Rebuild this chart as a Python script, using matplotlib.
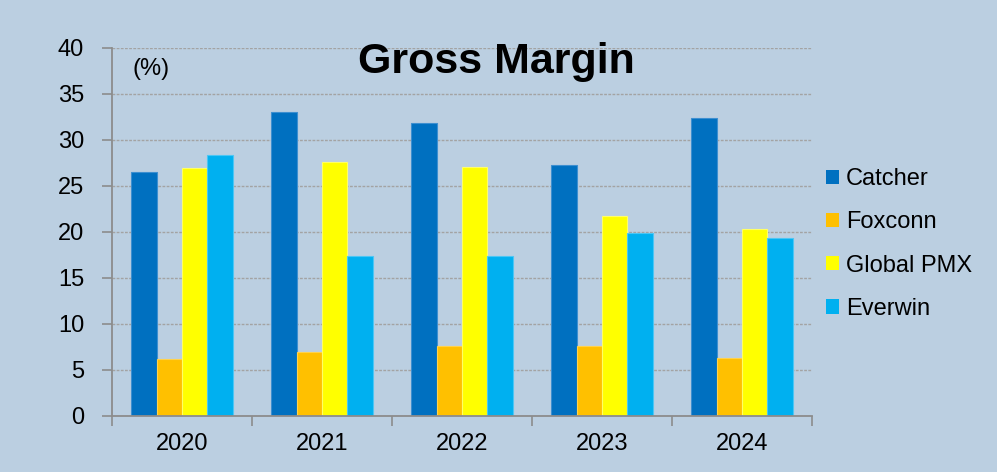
import matplotlib
matplotlib.use("Agg")
import matplotlib.pyplot as plt
from matplotlib.patches import Patch
import numpy as np

plt.rcParams['font.family'] = ['Liberation Sans', 'DejaVu Sans']

years = ["2020", "2021", "2022", "2023", "2024"]
series_names = ["Catcher", "Foxconn", "Global PMX", "Everwin"]
catcher = [26.5, 33.0, 31.8, 27.25, 32.4]
foxconn = [6.15, 7.0, 7.6, 7.65, 6.35]
global_pmx = [27.0, 27.6, 27.1, 21.7, 20.3]
everwin = [28.4, 17.4, 17.35, 19.85, 19.3]
colors = ["#0070C0", "#FFC000", "#FFFF00", "#00B0F0"]
edges = ["#3d8fd0", "#ffd24d", "#ffff66", "#4cc6f4"]

bg = "#bbcfe1"
fig = plt.figure(figsize=(9.97, 4.72), dpi=100, facecolor=bg)
ax = fig.add_axes([112/997, 1-416/472, 700/997, 368/472])
ax.set_facecolor(bg)

x = np.arange(len(years))
bw = 0.1815
data = [catcher, foxconn, global_pmx, everwin]
for i, (vals, c, e, n) in enumerate(zip(data, colors, edges, series_names)):
    ax.bar(x + (i - 1.5) * bw, vals, width=bw, color=c, edgecolor=e, linewidth=0.8, label=n, zorder=3)

ax.set_xlim(-0.5, len(years) - 0.5)
ax.set_ylim(0, 40)
ax.set_yticks(np.arange(0, 41, 5))
ax.set_xticks(np.arange(-0.5, len(years), 1.0))
ax.set_xticklabels([])
ax.set_xticks(x, minor=True)
ax.set_xticklabels(years, minor=True)
ax.tick_params(axis='x', which='minor', length=0, pad=12, labelsize=17)
ax.tick_params(axis='x', which='major', length=7, width=1.2, color='#8c8c8c', direction='out')
ax.tick_params(axis='y', length=7, width=1.2, color='#8c8c8c', direction='out', pad=13, labelsize=17)

ax.grid(axis='y', color='#a3a3a3', linestyle=(0, (2, 1)), linewidth=1.0, zorder=0)
for s in ['top', 'right']:
    ax.spines[s].set_visible(False)
for s in ['left', 'bottom']:
    ax.spines[s].set_color('#8c8c8c')
    ax.spines[s].set_linewidth(1.3)
    ax.spines[s].set_zorder(4)

fig.text(496/997, 1-62/472, "Gross Margin", fontsize=31, fontweight='bold', ha='center', va='center')
fig.text(132/997, 1-69/472, "(%)", fontsize=17, ha='left', va='center')

handles = [Patch(facecolor=c, edgecolor='none') for c in colors]
fig.legend(handles, series_names, loc='upper left', bbox_to_anchor=(826/997, 1-168/472),
           frameon=False, fontsize=17, handlelength=0.55, handleheight=0.55,
           handletextpad=0.3, labelspacing=0.9, borderpad=0, borderaxespad=0)

fig.savefig("out.png", dpi=100, facecolor=bg)
